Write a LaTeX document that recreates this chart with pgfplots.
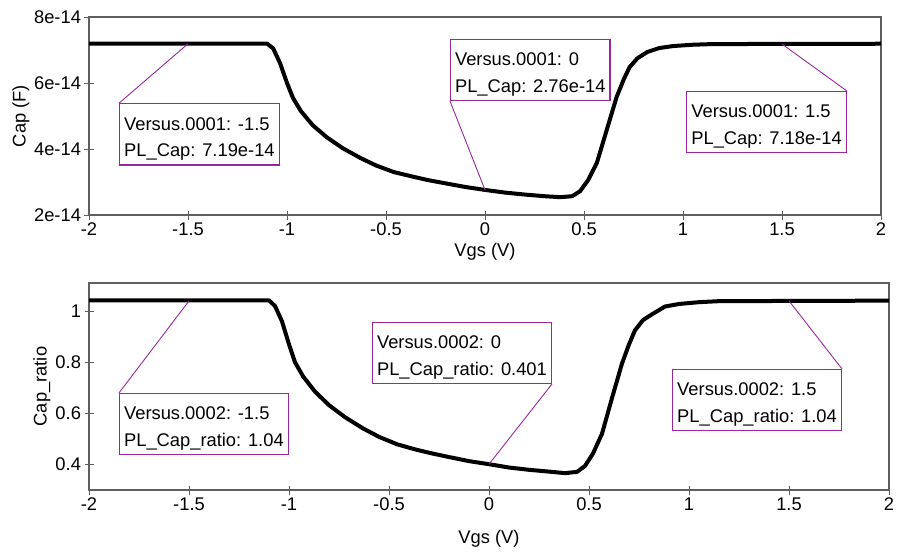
\documentclass[border=0pt]{standalone}
\usepackage{fontspec}
\setmainfont{Liberation Sans}
\usepackage{pgfplots}
\pgfplotsset{compat=1.18}
\definecolor{boxpurple}{RGB}{150,40,155}
\definecolor{axgray}{RGB}{95,95,95}
\begin{document}
\begin{tikzpicture}[font=\fontsize{18.4}{22}\selectfont,
  annbox/.style={draw=boxpurple, line width=1.2bp, fill=white, align=left,
    inner xsep=4.5bp, inner ysep=4.4bp, font=\fontsize{18.4}{26.7}\selectfont},
  leader/.style={boxpurple, line width=0.9bp}]
\path[use as bounding box] (0,0) rectangle (897bp,-553bp);
\pgfplotsset{
  myax/.style={
    scale only axis,
    xmin=-2, xmax=2,
    xtick={-2,-1.5,-1,-0.5,0,0.5,1,1.5,2},
    xtick pos=bottom, ytick pos=left,
    tick align=center,
    major tick length=9bp,
    tick style={axgray, line width=1bp},
    axis line style={axgray, line width=1.5bp},
    /pgf/number format/assume math mode=true,
    tick label style={font=\fontsize{18.4}{22}\selectfont},
    label style={font=\fontsize{18.4}{22}\selectfont},
    scaled y ticks=false, scaled x ticks=false,
    clip=true,
  }
}
% ---------- top axis ----------
\begin{axis}[myax,
  at={(89bp,-215bp)}, anchor=south west,
  width=792bp, height=198bp,
  ymin=2e-14, ymax=8e-14,
  ytick={2e-14,4e-14,6e-14,8e-14},
  yticklabels={2e-14,4e-14,6e-14,8e-14},
  xlabel={Vgs (V)}, ylabel={Cap (F)},
  xlabel style={at={(axis description cs:0.5,-0.185)}, anchor=center},
  ylabel style={at={(axis description cs:-0.0859,0.5)}, anchor=center, rotate=0},
]
\addplot[black, line width=4bp, line join=round, no marks] coordinates {
(-2,7.19e-14) (-1.10,7.19e-14) (-1.07,7.05e-14) (-1.035,6.6e-14) (-1.0,6.0e-14)
(-0.97,5.55e-14) (-0.93,5.15e-14) (-0.87,4.72e-14) (-0.80,4.36e-14) (-0.72,4.03e-14)
(-0.63,3.73e-14) (-0.55,3.50e-14) (-0.46,3.30e-14) (-0.37,3.17e-14) (-0.29,3.06e-14)
(-0.20,2.96e-14) (-0.10,2.85e-14) (0,2.76e-14) (0.10,2.68e-14) (0.20,2.62e-14)
(0.30,2.57e-14) (0.38,2.54e-14) (0.44,2.57e-14) (0.48,2.72e-14) (0.52,3.05e-14)
(0.565,3.58e-14) (0.615,4.58e-14) (0.665,5.58e-14) (0.70,6.10e-14) (0.73,6.48e-14)
(0.77,6.75e-14) (0.82,6.94e-14) (0.88,7.06e-14) (0.95,7.12e-14) (1.05,7.16e-14)
(1.15,7.18e-14) (2,7.19e-14)
};
\draw[leader] (axis cs:-1.5,7.19e-14) -- (axis cs:-1.848,5.39e-14);
\node[annbox, anchor=north west] at (axis cs:-1.848,5.39e-14)
  {\rule{0pt}{22bp}Versus.0001: -1.5\\PL\_Cap: 7.19e-14};
\draw[leader] (axis cs:0,2.76e-14) -- (axis cs:-0.177,5.455e-14);
\node[annbox, anchor=south west] at (axis cs:-0.177,5.455e-14)
  {\rule{0pt}{22bp}Versus.0001: 0\\PL\_Cap: 2.76e-14};
\draw[leader] (axis cs:1.5,7.18e-14) -- (axis cs:1.828,5.758e-14);
\node[annbox, anchor=north east] at (axis cs:1.828,5.758e-14)
  {\rule{0pt}{22bp}Versus.0001: 1.5\\PL\_Cap: 7.18e-14};
\end{axis}
% ---------- bottom axis ----------
\begin{axis}[myax,
  at={(89bp,-490bp)}, anchor=south west,
  width=800bp, height=207bp,
  ymin=0.3, ymax=1.11,
  ytick={0.4,0.6,0.8,1},
  xlabel={Vgs (V)}, ylabel={Cap\_ratio},
  xlabel style={at={(axis description cs:0.5,-0.237)}, anchor=center},
  ylabel style={at={(axis description cs:-0.0588,0.5)}, anchor=center, rotate=0},
]
\addplot[black, line width=4bp, line join=round, no marks] coordinates {
(-2,1.042) (-1.10,1.042) (-1.07,1.02) (-1.035,0.96) (-1.0,0.87)
(-0.97,0.80) (-0.93,0.745) (-0.87,0.685) (-0.80,0.632) (-0.72,0.585)
(-0.63,0.541) (-0.55,0.508) (-0.46,0.479) (-0.37,0.459) (-0.29,0.444)
(-0.20,0.429) (-0.10,0.413) (0,0.401) (0.10,0.388) (0.20,0.379)
(0.30,0.372) (0.38,0.366) (0.44,0.371) (0.48,0.394) (0.52,0.443)
(0.565,0.52) (0.615,0.66) (0.665,0.795) (0.70,0.87) (0.73,0.925)
(0.77,0.965) (0.82,0.99) (0.88,1.018) (0.95,1.028) (1.05,1.035)
(1.15,1.039) (2,1.041)
};
\draw[leader] (axis cs:-1.5,1.04) -- (axis cs:-1.85,0.680);
\node[annbox, anchor=north west] at (axis cs:-1.85,0.680)
  {\rule{0pt}{22bp}Versus.0002: -1.5\\PL\_Cap\_ratio: 1.04};
\draw[leader] (axis cs:0,0.401) -- (axis cs:0.315,0.715);
\node[annbox, anchor=south east] at (axis cs:0.315,0.715)
  {\rule{0pt}{22bp}Versus.0002: 0\\PL\_Cap\_ratio: 0.401};
\draw[leader] (axis cs:1.5,1.04) -- (axis cs:1.765,0.774);
\node[annbox, anchor=north east] at (axis cs:1.765,0.774)
  {\rule{0pt}{22bp}Versus.0002: 1.5\\PL\_Cap\_ratio: 1.04};
\end{axis}
\end{tikzpicture}
\end{document}
